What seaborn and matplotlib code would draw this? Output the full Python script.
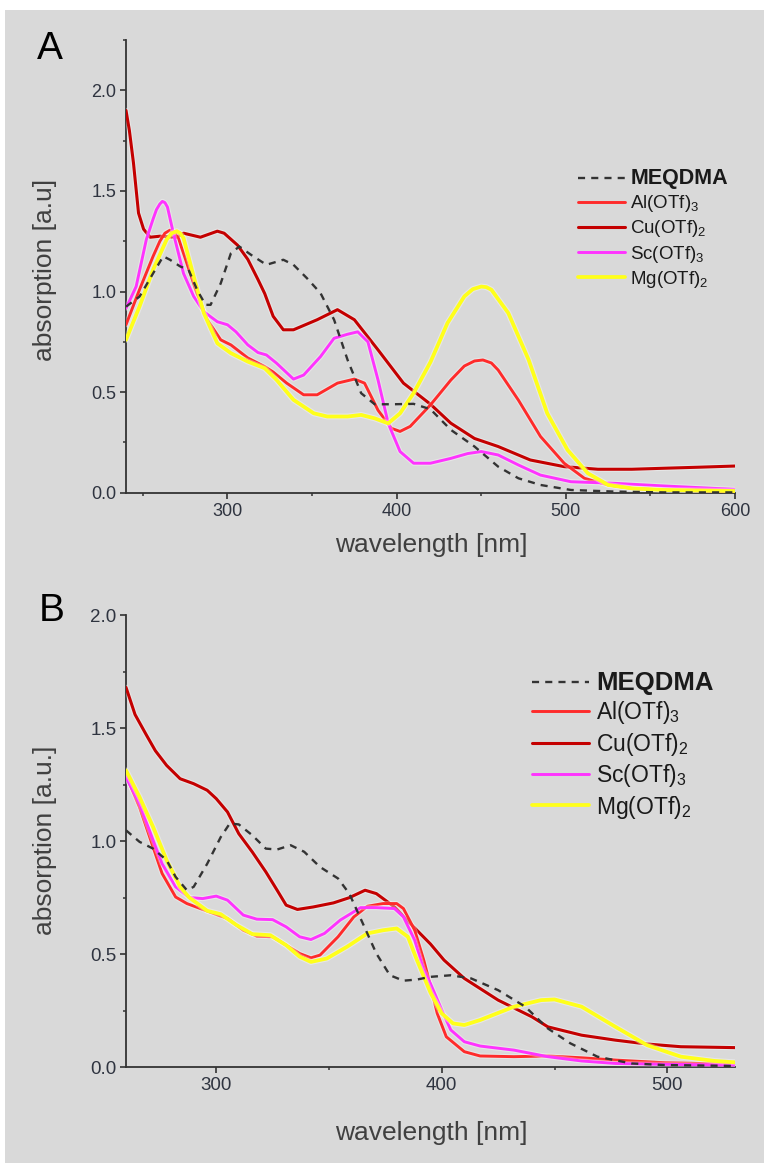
import numpy as np
import pandas as pd
import matplotlib
matplotlib.use("Agg")
import matplotlib.pyplot as plt
import seaborn as sns
from matplotlib.ticker import MultipleLocator
import matplotlib.patheffects as pe
from matplotlib.patches import Rectangle

# ---------------- data ----------------
# Panel A
A_MEQDMA_X = [240, 248, 256, 262, 266, 272, 277, 282, 287, 290, 296, 302, 307, 314, 323, 333, 339, 347, 355,
              363, 371, 379, 387, 398, 410, 420, 432, 446, 460, 472, 485, 503, 529, 558, 600]
A_MEQDMA_Y = [0.925, 0.975, 1.09, 1.175, 1.158, 1.125, 1.108, 1.009, 0.934, 0.934, 1.041, 1.19, 1.224, 1.182,
              1.133, 1.158, 1.133, 1.066, 0.992, 0.86, 0.66, 0.495, 0.44, 0.44, 0.442, 0.415, 0.313, 0.23, 0.13,
              0.072, 0.039, 0.014, 0.006, 0.002, 0.002]

A_CU_X = [240, 242, 244.4, 247.4, 250.4, 254.3, 260, 270, 274, 284, 294, 298, 306, 312, 318, 322, 327, 333, 339,
          353, 365, 375, 389, 404, 420, 432, 446, 460, 479, 499, 519, 539, 558, 578, 600]
A_CU_Y = [1.90, 1.80, 1.64, 1.39, 1.31, 1.27, 1.275, 1.27, 1.29, 1.27, 1.30, 1.29, 1.23, 1.16, 1.06, 0.99, 0.877,
          0.81, 0.81, 0.86, 0.91, 0.86, 0.71, 0.545, 0.44, 0.346, 0.27, 0.23, 0.163, 0.13, 0.117, 0.117, 0.122,
          0.127, 0.133]

A_AL_X = [240, 248, 256, 260, 263, 266, 268, 271, 276, 282, 288, 296, 302, 312, 322, 327, 335, 345, 353, 365, 375,
          381, 389, 397, 402, 408, 420, 432, 440, 446, 451, 456, 460, 472, 485, 499, 511, 525, 539, 558, 600]
A_AL_Y = [0.835, 1.01, 1.175, 1.25, 1.29, 1.305, 1.30, 1.265, 1.14, 0.99, 0.86, 0.76, 0.735, 0.67, 0.627, 0.60,
          0.545, 0.487, 0.487, 0.545, 0.565, 0.545, 0.41, 0.32, 0.305, 0.33, 0.437, 0.56, 0.63, 0.655, 0.66, 0.645,
          0.61, 0.46, 0.28, 0.147, 0.072, 0.039, 0.022, 0.014, 0.006]

A_SC_X = [240, 246, 252, 256, 258, 260, 261.5, 263, 264.5, 268, 274, 280, 286, 294, 300, 305, 312, 318, 323, 329,
          339, 345, 355, 363, 371, 377, 383, 389, 395, 402, 410, 420, 432, 442, 450, 460, 472, 485, 503, 529, 558,
          600]
A_SC_Y = [0.917, 1.025, 1.258, 1.36, 1.407, 1.435, 1.448, 1.442, 1.42, 1.29, 1.09, 0.976, 0.90, 0.85, 0.835, 0.80,
          0.735, 0.697, 0.685, 0.644, 0.565, 0.585, 0.677, 0.768, 0.788, 0.80, 0.75, 0.56, 0.345, 0.205, 0.147,
          0.147, 0.171, 0.195, 0.205, 0.188, 0.138, 0.088, 0.055, 0.047, 0.034, 0.017]

A_MG_X = [240, 248, 256, 264, 267, 270, 272, 274, 280, 286, 294, 302, 312, 322, 329, 339, 351, 359, 371, 379, 387,
          395, 402, 410, 420, 430, 440, 445, 450, 453, 456, 466, 478, 489, 501, 513, 525, 539, 558, 600]
A_MG_Y = [0.76, 0.926, 1.108, 1.258, 1.29, 1.30, 1.29, 1.266, 1.075, 0.893, 0.743, 0.694, 0.652, 0.619, 0.561,
          0.462, 0.395, 0.379, 0.379, 0.387, 0.37, 0.345, 0.395, 0.495, 0.65, 0.843, 0.976, 1.012, 1.025, 1.022,
          1.009, 0.893, 0.661, 0.395, 0.213, 0.097, 0.039, 0.022, 0.014, 0.009]

# Panel B
B_MEQDMA_X = [260, 266, 272, 278, 282, 287, 290, 296, 302, 306, 310, 316, 322, 327, 333, 339, 346, 354, 359, 365,
              371, 377, 383, 389, 395, 404, 413, 425, 437, 447, 457, 469, 484, 499, 530]
B_MEQDMA_Y = [1.048, 0.997, 0.967, 0.916, 0.842, 0.783, 0.798, 0.90, 1.018, 1.078, 1.074, 1.026, 0.967, 0.963,
              0.982, 0.953, 0.886, 0.835, 0.768, 0.636, 0.503, 0.407, 0.383, 0.388, 0.40, 0.407, 0.393, 0.341,
              0.268, 0.172, 0.106, 0.047, 0.017, 0.01, 0.006]

B_CU_X = [260, 264, 269, 273, 278, 284, 290, 296, 300, 305, 310, 316, 322, 327, 331, 336, 343, 352, 359, 366, 371,
          379, 386, 395, 401, 410, 425, 440, 447, 462, 477, 491, 506, 530]
B_CU_Y = [1.68, 1.56, 1.47, 1.40, 1.335, 1.276, 1.254, 1.225, 1.188, 1.129, 1.033, 0.952, 0.864, 0.783, 0.717,
          0.698, 0.709, 0.727, 0.75, 0.783, 0.768, 0.709, 0.636, 0.545, 0.474, 0.393, 0.297, 0.223, 0.179, 0.142,
          0.12, 0.103, 0.091, 0.087]

B_AL_X = [260, 266, 272, 276, 282, 287, 293, 297, 305, 312, 318, 325, 331, 337, 342, 346, 354, 361, 367, 374, 380,
          383, 388, 392, 395, 398, 402, 410, 417, 432, 447, 462, 477, 499, 530]
B_AL_Y = [1.29, 1.151, 0.974, 0.857, 0.753, 0.724, 0.702, 0.687, 0.658, 0.606, 0.58, 0.577, 0.54, 0.503, 0.484,
          0.496, 0.577, 0.665, 0.712, 0.724, 0.724, 0.702, 0.606, 0.474, 0.36, 0.238, 0.135, 0.069, 0.05, 0.047,
          0.05, 0.042, 0.032, 0.02, 0.014]

B_SC_X = [260, 266, 272, 276, 282, 288, 294, 300, 305, 312, 318, 325, 331, 337, 342, 348, 355, 364, 371, 379, 383,
          388, 392, 395, 400, 404, 410, 417, 432, 447, 462, 477, 499, 530]
B_SC_Y = [1.283, 1.166, 1.004, 0.90, 0.798, 0.751, 0.746, 0.757, 0.739, 0.673, 0.655, 0.653, 0.621, 0.577, 0.565,
          0.592, 0.651, 0.706, 0.706, 0.702, 0.665, 0.562, 0.43, 0.37, 0.253, 0.165, 0.113, 0.094, 0.076, 0.047,
          0.028, 0.017, 0.013, 0.01]

B_MG_X = [260, 266, 272, 278, 284, 288, 296, 302, 309, 316, 324, 331, 337, 342, 349, 358, 367, 374, 380, 385, 389,
          395, 400, 405, 410, 417, 432, 444, 450, 462, 477, 491, 506, 521, 530]
B_MG_Y = [1.313, 1.195, 1.063, 0.916, 0.798, 0.751, 0.692, 0.677, 0.629, 0.589, 0.584, 0.54, 0.489, 0.466, 0.481,
          0.533, 0.592, 0.606, 0.614, 0.577, 0.474, 0.33, 0.238, 0.194, 0.187, 0.209, 0.268, 0.297, 0.30, 0.268,
          0.179, 0.098, 0.047, 0.028, 0.022]

LABELS = ["MEQDMA", r"Al(OTf)$_3$", r"Cu(OTf)$_2$", r"Sc(OTf)$_3$", r"Mg(OTf)$_2$"]
X_TICKS_A = [300, 400, 500, 600]
X_TICKS_B = [300, 400, 500]
Y_TICKS_A = [0.0, 0.5, 1.0, 1.5, 2.0]
Y_TICKS_B = [0.0, 0.5, 1.0, 1.5, 2.0]

# ---------------- style ----------------
sns.set_theme(style="ticks")
plt.rcParams["font.family"] = ["Liberation Sans", "DejaVu Sans"]
plt.rcParams["mathtext.fontset"] = "custom"
plt.rcParams["mathtext.rm"] = "Liberation Sans"
plt.rcParams["mathtext.default"] = "regular"

BG = "#d9d9d9"
AX_COL = "#333333"
COLORS = {"MEQDMA": "#333333", "Al": "#ff2b2b", "Cu": "#c40000", "Sc": "#ff33ff", "Mg": "#ffff1a"}
WIDTHS = {"MEQDMA": 1.7, "Al": 2.1, "Cu": 2.2, "Sc": 2.1, "Mg": 2.7}

fig = plt.figure(figsize=(7.64, 11.63), dpi=100, facecolor="white")
fig.patches.append(Rectangle((5 / 764, 0), 1, 1 - 10 / 1163, transform=fig.transFigure,
                             facecolor=BG, edgecolor="none", zorder=-10))

axA = fig.add_axes([126 / 764, 1 - 492.8 / 1163, 609 / 764, 452.8 / 1163])
axB = fig.add_axes([126 / 764, 1 - 1067.3 / 1163, 609 / 764, 452.3 / 1163])


def draw(ax, series):
    for key, xs, ys, lab in series:
        df = pd.DataFrame({"wavelength": xs, "absorption": ys})
        kw = dict(data=df, x="wavelength", y="absorption", ax=ax, color=COLORS[key],
                  linewidth=WIDTHS[key], label=lab, estimator=None, sort=True)
        if key == "MEQDMA":
            sns.lineplot(**kw, zorder=5)
            ax.lines[-1].set_dashes((3.0, 2.6))
        else:
            sns.lineplot(**kw, zorder=3)
            ax.lines[-1].set_path_effects(
                [pe.Stroke(linewidth=WIDTHS[key] + 1.6, foreground="white", alpha=0.35), pe.Normal()])
        ax.lines[-1].set_solid_joinstyle("round")
        ax.lines[-1].set_dash_joinstyle("round")


draw(axA, [("Cu", A_CU_X, A_CU_Y, LABELS[2]),
           ("Al", A_AL_X, A_AL_Y, LABELS[1]),
           ("Sc", A_SC_X, A_SC_Y, LABELS[3]),
           ("Mg", A_MG_X, A_MG_Y, LABELS[4]),
           ("MEQDMA", A_MEQDMA_X, A_MEQDMA_Y, LABELS[0])])
draw(axB, [("Cu", B_CU_X, B_CU_Y, LABELS[2]),
           ("Al", B_AL_X, B_AL_Y, LABELS[1]),
           ("Sc", B_SC_X, B_SC_Y, LABELS[3]),
           ("Mg", B_MG_X, B_MG_Y, LABELS[4]),
           ("MEQDMA", B_MEQDMA_X, B_MEQDMA_Y, LABELS[0])])


def style(ax, xlim, ylim, xt, yt, ylabel, tick_fs, lab_fs, ylab_y, xlab_y):
    ax.set_facecolor("none")
    ax.set_xlim(*xlim)
    ax.set_ylim(*ylim)
    ax.set_xticks(xt)
    ax.set_yticks(yt)
    ax.xaxis.set_minor_locator(MultipleLocator(50))
    ax.yaxis.set_minor_locator(MultipleLocator(0.25))
    ax.set_yticklabels([f"{v:.1f}" for v in yt])
    for s in ["top", "right"]:
        ax.spines[s].set_visible(False)
    for s in ["left", "bottom"]:
        ax.spines[s].set_color(AX_COL)
        ax.spines[s].set_linewidth(1.3)
    ax.tick_params(which="major", direction="out", length=4, width=1.2, color=AX_COL,
                   labelsize=tick_fs, labelcolor="#2f3440", pad=3)
    ax.tick_params(which="minor", direction="out", length=2.5, width=1.1, color=AX_COL)
    ax.set_xlabel("wavelength [nm]", fontsize=lab_fs, color="#404040")
    ax.set_ylabel(ylabel, fontsize=lab_fs, color="#404040")
    ax.xaxis.label.set_verticalalignment("center")
    ax.yaxis.label.set_verticalalignment("center")
    ax.xaxis.set_label_coords(0.502, xlab_y)
    ax.yaxis.set_label_coords(-0.133, ylab_y)


style(axA, (240, 600), (0, 2.25), X_TICKS_A, Y_TICKS_A, "absorption [a.u]", 13, 19, 0.492, -0.115)
style(axB, (260, 530), (0, 2.0), X_TICKS_B, Y_TICKS_B, "absorption [a.u.]", 13.5, 19, 0.502, -0.145)


def legend(ax, anchor, fs, bold_fs, spacing):
    handles, labels = ax.get_legend_handles_labels()
    order = [labels.index(l) for l in LABELS]
    leg = ax.legend([handles[i] for i in order], [labels[i] for i in order], loc="upper left",
                    bbox_to_anchor=anchor, frameon=False, fontsize=fs, handlelength=2.5,
                    handletextpad=0.3, labelspacing=spacing, borderpad=0, borderaxespad=0)
    for t in leg.get_texts():
        t.set_color("#1a1a1a")
    leg.get_texts()[0].set_fontweight("bold")
    leg.get_texts()[0].set_fontsize(bold_fs)
    for h in leg.legend_handles:
        h.set_path_effects([])
    return leg


legend(axA, (0.742, 0.717), 13.5, 15.5, 0.22)
legend(axB, (0.666, 0.876), 16.5, 18.5, 0.19)

fig.text(50 / 764, 1 - 49 / 1163, "A", fontsize=28, ha="center", va="center", color="black")
fig.text(52 / 764, 1 - 611 / 1163, "B", fontsize=28, ha="center", va="center", color="black")

fig.savefig("out.png", dpi=100, facecolor="white")
